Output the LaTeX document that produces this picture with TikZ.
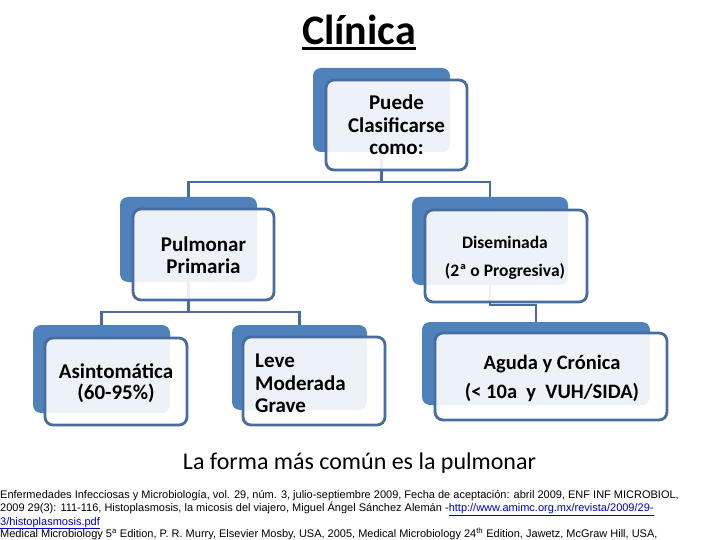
\documentclass[tikz,border=0pt]{standalone}
\usepackage{fontspec}
\setmainfont{Carlito}
\newfontfamily\reffont{Liberation Sans}
\usetikzlibrary{calc}
\definecolor{bkblue}{RGB}{79,129,189}
\definecolor{lnblue}{RGB}{72,108,160}
\definecolor{linkblue}{RGB}{0,0,190}
\begin{document}
\begin{tikzpicture}[x=1pt,y=-1pt,
  backbox/.style={fill=bkblue, rounded corners=8pt, inner sep=0pt},
  frontbox/.style={draw=lnblue, line width=2.8pt, fill=white, fill opacity=0.9, rounded corners=8pt, inner sep=0pt},
  conn/.style={draw=lnblue, line width=2.8pt},
  boxtext/.style={font=\fontsize{21}{22.5}\selectfont\bfseries, align=center, inner sep=0pt, text=black},
  reftext/.style={font=\reffont\fontsize{11}{12}\selectfont, anchor=base west, inner sep=0pt}]
\useasboundingbox (0,0) rectangle (720,540);
% back boxes
\node[backbox, minimum width=137pt, minimum height=84pt] (b1) at (381.5,110) {};
\node[backbox, minimum width=137pt, minimum height=85pt] (b2) at (188.5,239.5) {};
\node[backbox, minimum width=156pt, minimum height=88pt] (b3) at (490,241) {};
\node[backbox, minimum width=137pt, minimum height=88pt] (b4) at (101.5,369) {};
\node[backbox, minimum width=135pt, minimum height=85pt] (b5) at (299.5,367.5) {};
\node[backbox, minimum width=228pt, minimum height=83pt] (b6) at (536,363.5) {};
% connectors
\coordinate (j1) at (381.5,182);
\coordinate (j2) at (188.5,312);
\coordinate (j3) at (536,305);
\draw[conn] (b1.south) -- (j1);
\draw[conn] (b2.north) |- (j1);
\draw[conn] (b3.north) |- (j1);
\draw[conn] (b2.south) -- (j2);
\draw[conn] (b4.north) |- (j2);
\draw[conn] (b5.north) |- (j2);
\draw[conn] (b3.south) |- (j3) -- (b6.north);
% front boxes
\node[frontbox, minimum width=141pt, minimum height=90pt] (f1) at (396.5,125) {};
\node[frontbox, minimum width=141pt, minimum height=91pt] (f2) at (203.5,254.5) {};
\node[frontbox, minimum width=162pt, minimum height=92pt] (f3) at (506,256) {};
\node[frontbox, minimum width=142pt, minimum height=87pt] (f4) at (116,381.5) {};
\node[frontbox, minimum width=142pt, minimum height=88pt] (f5) at (314,381) {};
\node[frontbox, minimum width=232pt, minimum height=87pt] (f6) at (551,376.5) {};
% texts
\node[boxtext] (t1) at (396.5,125) {Puede\\Clasificarse\\como:};
\node[boxtext] (t2) at (203.5,255) {Pulmonar\\Primaria};
\node[boxtext, font=\fontsize{17.5}{28}\selectfont\bfseries] (t3) at (505,257.5) {Diseminada\\(2ª o Progresiva)};
\node[boxtext, font=\fontsize{21}{21.5}\selectfont\bfseries] (t4) at (116,383) {Asintomática\\(60-95\%)};
\node[boxtext, align=left, anchor=west] (t5) at (255,383.5) {Leve\\Moderada\\Grave};
\node[boxtext, font=\fontsize{20.5}{29}\selectfont\bfseries] (t6) at (552,378.5) {Aguda y Crónica\\(<~10a~~y~~VUH/SIDA)};
% title
\node[font=\fontsize{42}{42}\selectfont\bfseries, inner sep=0pt, anchor=base] (title) at (359,45) {Clínica};
\draw[line width=3pt] ([yshift=-4pt]title.base west) -- ([yshift=-4pt]title.base east);
% bottom text
\node[font=\fontsize{24}{24}\selectfont, anchor=base, inner sep=0pt] (main) at (359.5,469) {La forma más común es la pulmonar};
\node[reftext] (r1) at (0,498) {Enfermedades Infecciosas y Microbiología, vol. 29, núm. 3, julio-septiembre 2009, Fecha de aceptación: abril 2009, ENF INF MICROBIOL,};
\node[reftext] (r2) at (0,511.5) {2009 29(3): 111-116, Histoplasmosis, la micosis del viajero, Miguel Ángel Sánchez Alemán -\textcolor{linkblue}{\underline{http://www.amimc.org.mx/revista/2009/29-}}};
\node[reftext] (r3) at (0,525) {\textcolor{linkblue}{\underline{3/histoplasmosis.pdf}}};
\node[reftext] (r4) at (0,537) {Medical Microbiology 5\textsuperscript{a} Edition, P. R. Murry, Elsevier Mosby, USA, 2005, Medical Microbiology 24\textsuperscript{th} Edition, Jawetz, McGraw Hill, USA,};
\end{tikzpicture}
\end{document}
